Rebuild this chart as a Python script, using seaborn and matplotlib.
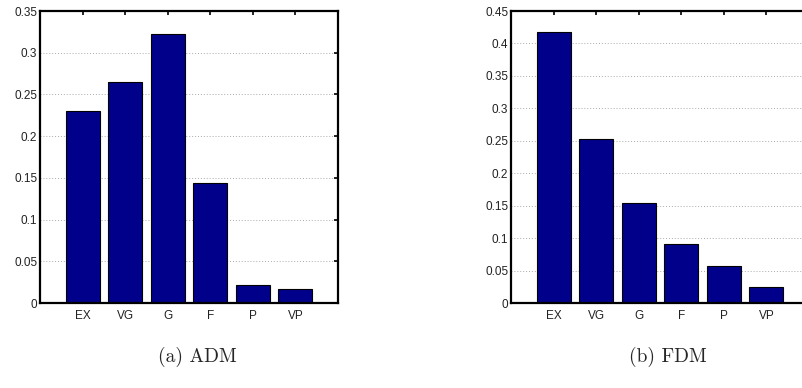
import pandas as pd
import matplotlib
matplotlib.use("Agg")
import matplotlib.pyplot as plt
import seaborn as sns

# Rating categories and share of each rating
grades = ["EX", "VG", "G", "F", "P", "VP"]
adm = [0.230, 0.265, 0.323, 0.144, 0.021, 0.017]
fdm = [0.417, 0.252, 0.154, 0.091, 0.057, 0.024]
captions = ["(a) ADM", "(b) FDM"]
ymax = [0.35, 0.45]

sns.set_style("white")
plt.rcParams["font.family"] = ["Liberation Sans", "DejaVu Sans"]

fig = plt.figure(figsize=(8.02, 3.88), dpi=100)
ax1 = fig.add_axes([40 / 802, 85 / 388, 298 / 802, 292 / 388])
ax2 = fig.add_axes([511 / 802, 85 / 388, 298 / 802, 292 / 388])

for ax, vals, top in zip([ax1, ax2], [adm, fdm], ymax):
    df = pd.DataFrame({"grade": grades, "share": vals})
    sns.barplot(data=df, x="grade", y="share", ax=ax, color="#00008B",
                saturation=1, width=0.8, edgecolor="black", linewidth=0.8,
                zorder=2)
    ax.set_xlim(-1, 6)
    ax.set_ylim(0, top)
    ax.set_yticks([i * 0.05 for i in range(int(round(top / 0.05)) + 1)])
    ax.yaxis.set_major_formatter(plt.FuncFormatter(lambda v, p: "0" if v == 0 else f"{v:g}"))
    ax.set_xlabel("")
    ax.set_ylabel("")
    # MATLAB-like dotted horizontal grid
    ax.grid(axis="y", linestyle=(0, (1, 2)), color="#aaaaaa", linewidth=0.7, zorder=0)
    ax.set_axisbelow(True)
    ax.tick_params(direction="in", length=3, width=1.2, top=True, right=True,
                   labelsize=8.5, colors="black", labelcolor="#222222")
    ax.tick_params(axis="y", pad=2)
    ax.tick_params(axis="x", pad=5)
    for s in ax.spines.values():
        s.set_visible(True)
        s.set_color("black")
        s.set_linewidth(1.6)

fig.text(197 / 802, 1 - 357 / 388, captions[0], family="cmr10", fontsize=14,
         ha="center", va="center")
fig.text(668 / 802, 1 - 357 / 388, captions[1], family="cmr10", fontsize=14,
         ha="center", va="center")

fig.savefig("out.png", dpi=100)
